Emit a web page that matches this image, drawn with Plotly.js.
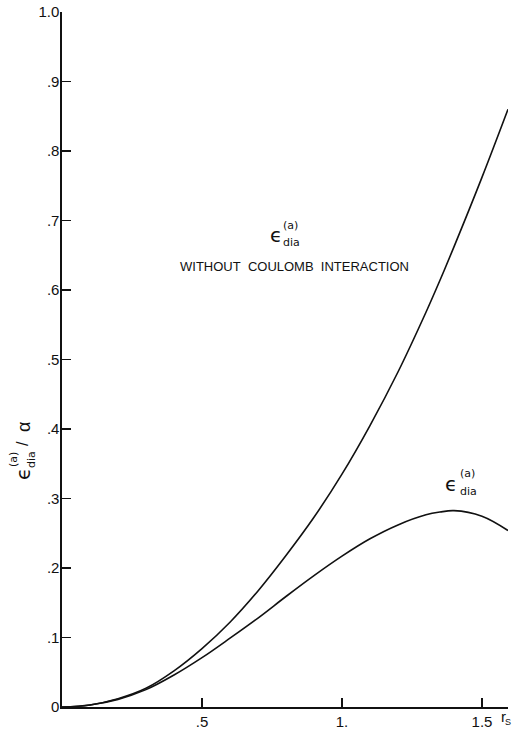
<!DOCTYPE html>
<html>
<head>
<meta charset="utf-8">
<script src="https://cdn.plot.ly/plotly-3.0.1.min.js"></script>
<style>html,body{margin:0;padding:0;background:#fff;}#chart{width:513px;height:732px;}</style>
</head>
<body>
<div id="chart"></div>
<script>
// r_s values
const rs = [0, 0.1, 0.2, 0.3, 0.4, 0.5, 0.6, 0.7, 0.8, 0.9, 1.0, 1.1, 1.2, 1.3, 1.35, 1.4, 1.5, 1.593];
// epsilon_dia^(a)/alpha without Coulomb interaction
const withoutCoulomb = [0, 0.003, 0.012, 0.027, 0.052, 0.084, 0.122, 0.167, 0.218, 0.273, 0.335, 0.405, 0.482, 0.568, 0.614, 0.662, 0.762, 0.860];
// epsilon_dia^(a)/alpha
const withCoulomb = [0, 0.003, 0.011, 0.025, 0.046, 0.071, 0.099, 0.128, 0.159, 0.189, 0.217, 0.242, 0.262, 0.2765, 0.2805, 0.2825, 0.2745, 0.254];

const yTickVals = [0, 0.1, 0.2, 0.3, 0.4, 0.5, 0.6, 0.7, 0.8, 0.9, 1.0];
const yTickText = ['0', '.1', '.2', '.3', '.4', '.5', '.6', '.7', '.8', '.9', '1.0'];
const xTickVals = [0.5, 1.0, 1.5, 1.593];
const xTickText = ['.5', '1.', '1.5', ''];

const W = 513, H = 732, L = 62, R = 5, T = 12, B = 25;
const px = x => (x - L) / (W - L - R);
const py = y => (H - B - y) / (H - T - B);
const FONT = 'Liberation Sans, Arial, sans-serif';
const SUBFONT = 'DejaVu Sans, sans-serif';

function ann(x, y, text, size, extra, family) {
  return Object.assign({
    xref: 'paper', yref: 'paper', x: px(x), y: py(y), text: text,
    showarrow: false, xanchor: 'center', yanchor: 'middle',
    font: {family: family || FONT, size: size, color: '#111'}
  }, extra || {});
}

const annotations = [
  // upper label
  ann(276, 235, 'ϵ', 20, null, SUBFONT),
  ann(290, 225, '(a)', 11, null, SUBFONT),
  ann(291, 243, 'dia', 11, null, SUBFONT),
  ann(294, 266, 'WITHOUT&nbsp;&nbsp;COULOMB&nbsp;&nbsp;INTERACTION', 13),
  // lower label
  ann(451, 484, 'ϵ', 20, null, SUBFONT),
  ann(467, 473, '(a)', 11, null, SUBFONT),
  ann(468, 491, 'dia', 11, null, SUBFONT),
  // x axis label
  ann(503, 717, 'r', 15),
  ann(508, 722, 'S', 9),
  // y axis title (rotated)
  ann(23, 474, 'ϵ', 20, {textangle: -90}, SUBFONT),
  ann(14, 460, '(a)', 11, {textangle: -90}, SUBFONT),
  ann(32, 460, 'dia', 11, {textangle: -90}, SUBFONT),
  ann(23, 444, '/', 16, {textangle: -90}),
  ann(24, 427, 'α', 18, {textangle: -90})
];

const lineStyle = {color: '#111', width: 1.6, shape: 'spline', smoothing: 1};

const data = [
  {x: rs, y: withoutCoulomb, mode: 'lines', line: lineStyle, hoverinfo: 'skip', showlegend: false},
  {x: rs, y: withCoulomb, mode: 'lines', line: lineStyle, hoverinfo: 'skip', showlegend: false}
];

const layout = {
  width: W, height: H,
  margin: {l: L, r: R, t: T, b: B, pad: 0},
  paper_bgcolor: '#fff', plot_bgcolor: '#fff',
  showlegend: false,
  font: {family: FONT, color: '#111'},
  xaxis: {
    range: [0, 1.593], showgrid: false, zeroline: false,
    showline: true, linecolor: '#111', linewidth: 1.6,
    ticks: 'inside', ticklen: 9, tickwidth: 1.4, tickcolor: '#111',
    tickvals: xTickVals, ticktext: xTickText,
    tickfont: {family: FONT, size: 15, color: '#111'}
  },
  yaxis: {
    range: [0, 1.0], showgrid: false, zeroline: false,
    showline: true, linecolor: '#111', linewidth: 1.6,
    ticks: 'inside', ticklen: 9, tickwidth: 1.4, tickcolor: '#111',
    tickvals: yTickVals, ticktext: yTickText,
    tickfont: {family: FONT, size: 15, color: '#111'},
    ticklabelstandoff: -2
  },
  annotations: annotations
};

Plotly.newPlot('chart', data, layout, {staticPlot: true, displayModeBar: false});
</script>
</body>
</html>
